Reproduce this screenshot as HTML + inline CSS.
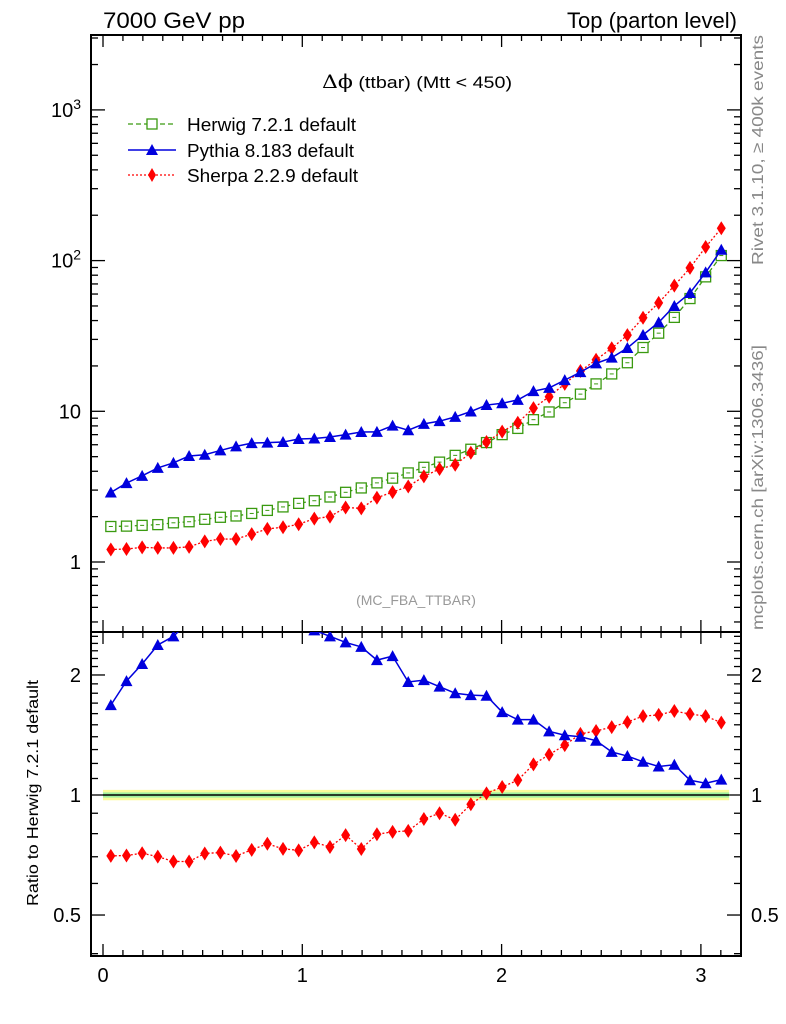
<!DOCTYPE html>
<html><head><meta charset="utf-8"><style>
html,body{margin:0;padding:0;background:#fff;}
svg{display:block;font-family:"Liberation Sans",sans-serif;}
</style></head><body>
<svg id="chart" width="786" height="1024" viewBox="0 0 786 1024" xmlns="http://www.w3.org/2000/svg">
<g id="grid-layer"></g>
<g id="marks"></g>
<text x="103" y="28" font-size="22" textLength="142" lengthAdjust="spacingAndGlyphs">7000 GeV pp</text>
<text x="737" y="28" font-size="22" text-anchor="end">Top (parton level)</text>
<text x="322" y="88" font-size="17" textLength="190" lengthAdjust="spacingAndGlyphs"><tspan font-family="'DejaVu Serif',serif" font-size="19">Δϕ</tspan> (ttbar) (Mtt &lt; 450)</text>
<text x="416" y="605" font-size="14" fill="#999" text-anchor="middle">(MC_FBA_TTBAR)</text>
<text transform="translate(763,265) rotate(-90)" font-size="16" fill="#888" textLength="230" lengthAdjust="spacingAndGlyphs">Rivet 3.1.10, ≥ 400k events</text>
<text transform="translate(763,630) rotate(-90)" font-size="16" fill="#888" textLength="285" lengthAdjust="spacingAndGlyphs">mcplots.cern.ch [arXiv:1306.3436]</text>
<text transform="translate(38,906) rotate(-90)" font-size="16" textLength="226" lengthAdjust="spacingAndGlyphs">Ratio to Herwig 7.2.1 default</text>
<g>
 <g>
  <line x1="128" y1="124" x2="176" y2="124" stroke="#3a9a10" stroke-width="1.3" stroke-dasharray="5,3"/>
  <rect x="147" y="119" width="10" height="10" fill="#fff" stroke="#3a9a10" stroke-width="1.3"/>
  <text x="187" y="131" font-size="18" textLength="169" lengthAdjust="spacingAndGlyphs">Herwig 7.2.1 default</text>
 </g>
 <g>
  <line x1="128" y1="150" x2="176" y2="150" stroke="#0000dd" stroke-width="1.5"/>
  <polygon points="152,144 146,155 158,155" fill="#0000dd"/>
  <text x="187" y="157" font-size="18" textLength="167" lengthAdjust="spacingAndGlyphs">Pythia 8.183 default</text>
 </g>
 <g>
  <line x1="128" y1="175" x2="176" y2="175" stroke="#ff0000" stroke-width="1.3" stroke-dasharray="2,2"/>
  <polygon points="152,168 156,175 152,182 148,175" fill="#ff0000"/>
  <text x="187" y="182" font-size="18" textLength="171" lengthAdjust="spacingAndGlyphs">Sherpa 2.2.9 default</text>
 </g>
</g>
</svg>
<script>
const herwig=[1.72,1.73,1.75,1.77,1.82,1.85,1.92,1.98,2.02,2.1,2.2,2.32,2.45,2.55,2.7,2.9,3.1,3.35,3.6,3.9,4.25,4.6,5.1,5.6,6.2,7.0,7.7,8.8,9.9,11.4,13,15.2,17.7,21,26.5,33,42,56,78,108];
const pythia=[2.89,3.34,3.73,4.21,4.55,5.05,5.15,5.5,5.85,6.15,6.2,6.25,6.55,6.6,6.75,7.0,7.29,7.3,8.03,7.49,8.25,8.6,9.18,9.97,11.0,11.3,11.9,13.6,14.3,16.1,18.2,20.8,22.7,26.3,32.1,38.9,50.0,61.0,83.5,118];
const sherpa=[1.21,1.22,1.25,1.24,1.24,1.26,1.37,1.42,1.42,1.53,1.66,1.70,1.78,1.94,2.0,2.30,2.27,2.67,2.91,3.17,3.70,4.14,4.42,5.31,6.26,7.33,8.39,10.5,12.5,15.2,18.5,22.0,26.2,32.0,41.8,52.4,68.2,89.4,123,164];
const nBins=40, xMax=Math.PI;
const xTicks=[0,1,2,3];
const mainTickLabels=["1","10","10²","10³"];
const ratioTicks=[0.5,1,2];

const NS="http://www.w3.org/2000/svg";
const L=91,R=741,T=35,MID=632,B=956;
const xs=v=>103+199.3*v;
const ys=v=>562-150.7*Math.log10(v);
const yr=v=>795-398.7*Math.log10(v);
const g=document.getElementById('grid-layer'), m=document.getElementById('marks');
function el(tag,attrs,parent){const e=document.createElementNS(NS,tag);for(const k in attrs)e.setAttribute(k,attrs[k]);parent.appendChild(e);return e;}

const f1=el('rect',{x:L,y:T,width:R-L,height:MID-T,fill:'none',stroke:'#000','stroke-width':2},g);


const f2=el('rect',{x:L,y:MID,width:R-L,height:B-MID,fill:'none',stroke:'#000','stroke-width':2},g);



for(let i=0;i<=31;i++){const v=i/10;const x=xs(v);const maj=i%10===0;const len=maj?12:6;
 for(const [top,bot] of [[T,MID],[MID,B]]){
  el('line',{x1:x,y1:top,x2:x,y2:top+len,stroke:'#000','stroke-width':1.3},g);
  el('line',{x1:x,y1:bot,x2:x,y2:bot-len,stroke:'#000','stroke-width':1.3},g);
 }}
xTicks.forEach(v=>{const t=el('text',{x:xs(v),y:982,'font-size':20,'text-anchor':'middle'},g);t.textContent=String(v);
 
 });

for(let d=-1;d<=3;d++){for(let k=1;k<=9;k++){const v=k*Math.pow(10,d);const y=ys(v);if(y<T||y>MID)continue;const len=k===1?14:7;
 el('line',{x1:L,y1:y,x2:L+len,y2:y,stroke:'#000','stroke-width':1.3},g);
 el('line',{x1:R,y1:y,x2:R-len,y2:y,stroke:'#000','stroke-width':1.3},g);}}
[1,10,100,1000].forEach((v,i)=>{const t=el('text',{x:81,y:ys(v)+7,'font-size':20,'text-anchor':'end'},g);
 const lab=mainTickLabels[i];
 if(lab.length>2){t.textContent='10';const s=el('tspan',{dy:-8,'font-size':14},t);s.textContent=lab.slice(2)==='²'?'2':'3';}else t.textContent=lab;
 
 });

for(let k=4;k<=25;k++){const vv=k/10;const y=yr(vv);if(y<MID||y>B)continue;
 const maj=(k===5||k===10||k===20);const len=maj?14:7;
 el('line',{x1:L,y1:y,x2:L+len,y2:y,stroke:'#000','stroke-width':1.3},g);
 el('line',{x1:R,y1:y,x2:R-len,y2:y,stroke:'#000','stroke-width':1.3},g);}
ratioTicks.forEach(v=>{for(const [x,a] of [[81,'end'],[751,'start']]){const t=el('text',{x:x,y:yr(v)+7,'font-size':20,'text-anchor':a},g);t.textContent=String(v);
 
 }});

const cx=i=>xs((i+0.5)*xMax/nBins);
const bandY=el('rect',{x:xs(0),y:yr(1.03),width:xs(xMax)-xs(0),height:yr(0.97)-yr(1.03),fill:'#fbfb9a'},m);


const bandG=el('rect',{x:xs(0),y:yr(1.015),width:xs(xMax)-xs(0),height:yr(0.985)-yr(1.015),fill:'#9ef09e'},m);


const ref=el('line',{x1:xs(0),y1:yr(1),x2:xs(xMax),y2:yr(1),stroke:'#000','stroke-width':1.5},m);



const clipMain=el('clipPath',{id:'cm'},m);el('rect',{x:L,y:T,width:R-L,height:MID-T},clipMain);
const clipR=el('clipPath',{id:'cr'},m);el('rect',{x:L,y:MID,width:R-L,height:B-MID},clipR);

function series(vals,yf,color,dash,shape,name,clip,w){
 const grp=el('g',{'clip-path':'url(#'+clip+')'},m);
 
 
 const pts=vals.map((v,i)=>cx(i)+','+yf(v)).join(' ');
 const pl=el('polyline',{points:pts,fill:'none',stroke:color,'stroke-width':w,'stroke-dasharray':dash},grp);
 
 
 vals.forEach((v,i)=>{const x=cx(i),y=yf(v);let p;
  if(shape==='sq'){p=el('rect',{x:x-5,y:y-5,width:10,height:10,fill:'#fff',stroke:color,'stroke-width':1.3},grp);
   el('line',{x1:x-2,y1:y,x2:x+2,y2:y,stroke:color,'stroke-width':1},grp);}
  else if(shape==='tri')p=el('polygon',{points:`${x},${y-6} ${x-6},${y+5} ${x+6},${y+5}`,fill:color},grp);
  else p=el('polygon',{points:`${x},${y-7} ${x+4.5},${y} ${x},${y+7} ${x-4.5},${y}`,fill:color},grp);
  
  });
}
series(herwig,ys,'#3a9a10','5,3','sq','herwig-series','cm',1.3);
series(sherpa,ys,'#ff0000','2,2','dia','sherpa-series','cm',1.3);
series(pythia,ys,'#0000dd','none','tri','pythia-series','cm',1.5);
series(sherpa.map((v,i)=>v/herwig[i]),yr,'#ff0000','2,2','dia','sherpa-ratio','cr',1.3);
series(pythia.map((v,i)=>v/herwig[i]),yr,'#0000dd','none','tri','pythia-ratio','cr',1.5);
</script>
</body></html>
